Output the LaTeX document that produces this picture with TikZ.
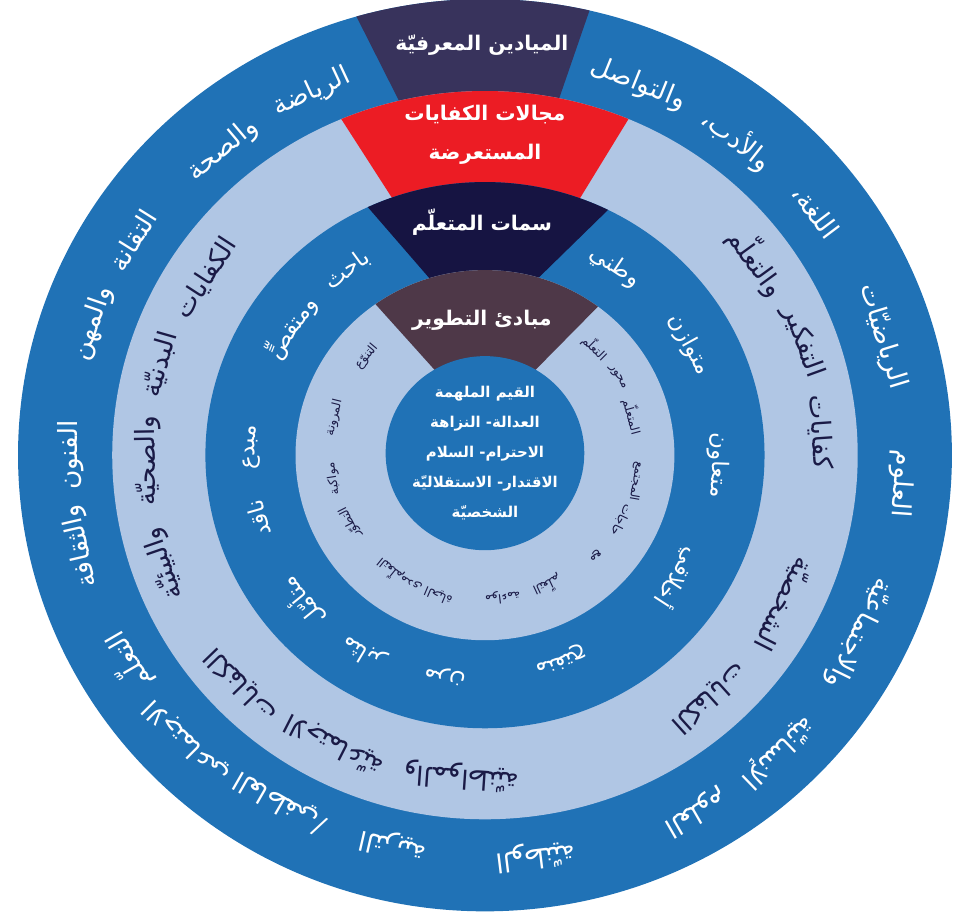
\documentclass[tikz,border=0pt]{standalone}
\usepackage{fontspec}
\newfontfamily\arabicfont[Script=Arabic]{DejaVu Sans}
\TeXXeTstate=1
\definecolor{ringblue}{RGB}{32,114,182}
\definecolor{ringlight}{RGB}{176,198,228}
\definecolor{wedgenavy}{RGB}{56,51,92}
\definecolor{wedgered}{RGB}{236,28,36}
\definecolor{wedgedark}{RGB}{22,20,66}
\definecolor{wedgebrown}{RGB}{78,56,72}
\definecolor{inktext}{RGB}{26,26,70}
\newcommand{\artext}[1]{\beginR#1\endR}
\tikzset{
  outerword/.style={font=\arabicfont\fontsize{15}{18}\selectfont, text=white, inner sep=0pt},
  compword/.style={font=\arabicfont\fontsize{15}{18}\selectfont, text=inktext, inner sep=0pt},
  traitword/.style={font=\arabicfont\fontsize{13}{16}\selectfont, text=white, inner sep=0pt},
  principleword/.style={font=\arabicfont\fontsize{7}{9}\selectfont, text=inktext, inner sep=0pt},
  wedgetitle/.style={font=\arabicfont\bfseries\fontsize{11.5}{22}\selectfont, text=white, align=center, inner sep=0pt},
  valuetext/.style={font=\arabicfont\bfseries\fontsize{8.5}{17}\selectfont, text=white, align=center, inner sep=0pt},
}

\begin{document}
\begin{tikzpicture}[x=0.02048cm, y=0.02cm]
\useasboundingbox (-473.6,-458) rectangle (459,455);
% rings and top wedges
\fill[ringblue] (0,0) circle[radius=456];
\begin{scope}
\clip (0,0) circle[radius=456];
\fill[wedgenavy] (-146,480) -- (114,480) -- (63.5,330) -- (-72,330) -- cycle;
\end{scope}
\fill[ringlight] (0,0) circle[radius=364];
\begin{scope}
\clip (0,0) circle[radius=364];
\fill[wedgered] (-168,380) -- (166.5,380) -- (82.7,240) -- (-80,240) -- cycle;
\end{scope}
\fill[ringblue] (0,0) circle[radius=273];
\begin{scope}
\clip (0,0) circle[radius=273];
\fill[wedgedark] (-150,290) -- (165,290) -- (35,160) -- (-40,160) -- cycle;
\end{scope}
\fill[ringlight] (0,0) circle[radius=185];
\begin{scope}
\clip (0,0) circle[radius=185];
\fill[wedgebrown] (-150,200) -- (160,200) -- (25,60) -- (-27,60) -- cycle;
\end{scope}
\fill[ringblue] (0,2) circle[radius=97];

% wedge titles
\node[wedgetitle] (mayadin) at (-3,410) {\artext{الميادين المعرفيّة}};
\node[wedgetitle] (majalat) at (0,320) {\artext{مجالات الكفايات}\\\artext{المستعرضة}};
\node[wedgetitle] (simat) at (-3,233) {\artext{سمات المتعلّم}};
\node[wedgetitle] (mabadi) at (-3,135) {\artext{مبادئ التطوير}};

% centre values
\node[valuetext] (qiyam) at (0,2) {\artext{القيم الملهمة}\\\artext{العدالة- النزاهة}\\\artext{الاحترام- السلام}\\\artext{الاقتدار- الاستقلاليّة}\\\artext{الشخصيّة}};

% knowledge domains
\node[outerword, rotate=-53] (lugha) at (37:405) {\artext{اللغة،}};
\node[outerword, rotate=-38] (adab) at (52:400) {\artext{والأدب،}};
\node[outerword, rotate=-22] (tawasul) at (68:400) {\artext{والتواصل}};
\node[outerword, rotate=-73] (riyadiyat) at (17:406) {\artext{الرياضيّات}};
\node[outerword, rotate=-94] (ulum) at (-4:407) {\artext{العلوم}};
\node[outerword, rotate=-150] (ulumb) at (-60:412) {\artext{العلوم}};
\node[outerword, rotate=-136] (insani) at (-46:412) {\artext{الإنسانيّة}};
\node[outerword, rotate=-116] (ijtimai) at (-26:406) {\artext{والاجتماعيّة}};
\node[outerword, rotate=25] (riyada) at (115:400) {\artext{الرياضة}};
\node[outerword, rotate=40] (sihha) at (130:398) {\artext{والصحة}};
\node[outerword, rotate=58] (taqana) at (148:406) {\artext{التقانة}};
\node[outerword, rotate=71] (mihan) at (161:405) {\artext{والمهن}};
\node[outerword, rotate=90] (funun) at (180:405) {\artext{الفنون}};
\node[outerword, rotate=103] (thaqafa) at (193:405) {\artext{والثقافة}};
\node[outerword, rotate=120] (taallumo) at (210.5:406) {\artext{التعلّم}};
\node[outerword, rotate=135] (ijtimaio) at (224.5:408) {\artext{الاجتماعي}};
\node[outerword, rotate=150] (atifi) at (240:400) {\artext{العاطفي/}};
\node[outerword, rotate=167] (tarbiya) at (257:400) {\artext{التربية}};
\node[outerword, rotate=187] (wataniya) at (277:404) {\artext{الوطنيّة}};

% transversal competence areas
\node[compword, rotate=-86] (kifayat) at (4:328) {\artext{كفايات}};
\node[compword, rotate=-70] (tafkir) at (20:330) {\artext{التفكير}};
\node[compword, rotate=-54] (taallum) at (36:329) {\artext{والتعلّم}};
\node[compword, rotate=-138] (kifshakh) at (-48:327) {\artext{الكفايات}};
\node[compword, rotate=-117] (shakhsiya) at (-27:327) {\artext{الشخصيّة}};
\node[compword, rotate=134] (kifijt) at (224:331) {\artext{الكفايات}};
\node[compword, rotate=153] (ijtimaiya) at (243:325) {\artext{الاجتماعيّة}};
\node[compword, rotate=176] (muwatiniya) at (266:322) {\artext{والمواطنيّة}};
\node[compword, rotate=57] (kifbad) at (147:325) {\artext{الكفايات}};
\node[compword, rotate=74] (badaniya) at (164:330) {\artext{البدنيّة}};
\node[compword, rotate=91] (sihhiya) at (181:329) {\artext{والصحيّة}};
\node[compword, rotate=109] (biiya) at (199:332) {\artext{والبيئيّة}};

% learner traits
\node[traitword, rotate=-34] (watani) at (56:227) {\artext{وطني}};
\node[traitword, rotate=-61] (mutawazin) at (29:228) {\artext{متوازن}};
\node[traitword, rotate=-92] (mutaawin) at (-2.5:228) {\artext{متعاون}};
\node[traitword, rotate=-123] (akhlaqi) at (-33:225) {\artext{أخلاقي}};
\node[traitword, rotate=-160] (munfatih) at (-70:218) {\artext{منفتح}};
\node[traitword, rotate=170] (marin) at (260:224) {\artext{مرن}};
\node[traitword, rotate=149] (muthabir) at (239:230) {\artext{مثابر}};
\node[traitword, rotate=129] (mutaammil) at (219.5:232) {\artext{متأمّل}};
\node[traitword, rotate=106] (naqid) at (196:230) {\artext{ناقد}};
\node[traitword, rotate=88] (mubdi) at (178:228) {\artext{مبدع}};
\node[traitword, rotate=36] (bahith) at (126:229) {\artext{باحث}};
\node[traitword, rotate=56] (mutaqassi) at (146:228) {\artext{ومتقصٍّ}};

% development principles
\node[principleword, rotate=-75] (pmutaallim) at (15:149) {\artext{المتعلّم}};
\node[principleword, rotate=-59] (pmihwar) at (31:151) {\artext{محور}};
\node[principleword, rotate=-45] (ptaallum) at (45:152) {\artext{التعلّم}};
\node[principleword, rotate=-100] (pmujtama) at (-10:150) {\artext{المجتمع}};
\node[principleword, rotate=-116] (phajat) at (-26:148) {\artext{حاجات}};
\node[principleword, rotate=-133] (pmaa) at (-43:147) {\artext{مع}};
\node[principleword, rotate=-155] (ptaallumb) at (-65:144) {\artext{التعلّم}};
\node[principleword, rotate=-173] (pmuwaama) at (-83:143) {\artext{مواءمة}};
\node[principleword, rotate=50] (ptanawwu) at (139.5:152) {\artext{التنوّع}};
\node[principleword, rotate=76] (pmurun) at (165.6:152) {\artext{المرونة}};
\node[principleword, rotate=99] (pmuwakaba) at (189:150) {\artext{مواكبة}};
\node[principleword, rotate=117] (ptatawwur) at (207:148) {\artext{التطوّر}};
\node[principleword, rotate=141] (ptaallumc) at (231:148) {\artext{التعلّم}};
\node[principleword, rotate=157] (pmada) at (247:147) {\artext{مدى الحياة}};
\end{tikzpicture}
\end{document}
